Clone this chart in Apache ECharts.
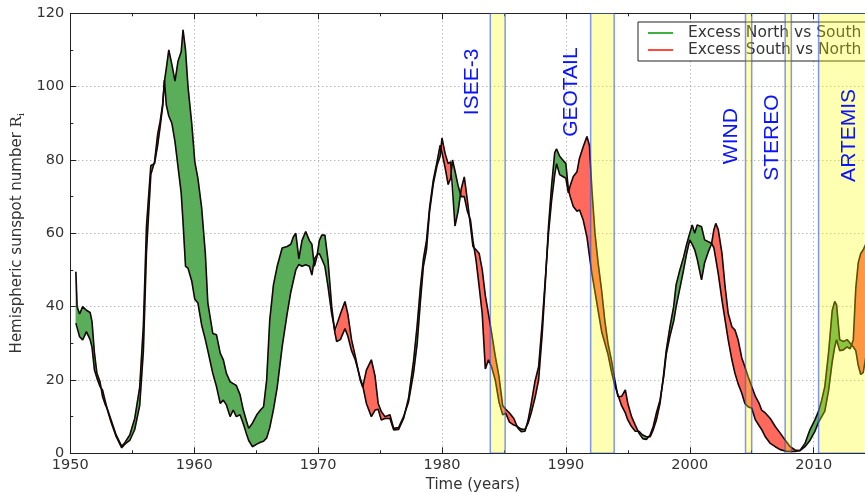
<!DOCTYPE html>
<html>
<head>
<meta charset="utf-8">
<script src="https://cdn.jsdelivr.net/npm/echarts@6/dist/echarts.min.js"></script>
<style>
  html, body { margin: 0; padding: 0; background: #fff; }
  #chart { width: 865px; height: 493px; }
</style>
</head>
<body>
<div id="chart"></div>
<script>
// Smoothed hemispheric sunspot numbers (northern / southern hemisphere)
const years = [
  1950.45,1950.55,1950.75,1951.0,1951.3,1951.6,1951.75,1951.95,1952.15,1952.4,
  1952.6,1952.8,1953.0,1953.3,1953.7,1954.15,1954.4,1954.8,1955.2,1955.6,
  1955.9,1956.15,1956.5,1956.8,1957.05,1957.25,1957.45,1957.6,1957.75,1957.95,
  1958.2,1958.45,1958.7,1958.95,1959.1,1959.3,1959.5,1959.8,1960.05,1960.3,
  1960.6,1960.9,1961.1,1961.5,1961.8,1962.1,1962.35,1962.6,1962.9,1963.15,
  1963.4,1963.7,1963.95,1964.2,1964.4,1964.7,1965.05,1965.35,1965.6,1965.85,
  1966.1,1966.4,1966.7,1967.1,1967.5,1967.8,1968.0,1968.2,1968.45,1968.7,
  1969.0,1969.3,1969.5,1969.7,1969.9,1970.1,1970.3,1970.55,1970.8,1971.1,
  1971.35,1971.5,1971.8,1972.17,1972.4,1972.7,1973.0,1973.4,1973.6,1973.9,
  1974.3,1974.6,1974.85,1975.1,1975.4,1975.8,1976.1,1976.5,1976.9,1977.3,
  1977.7,1978.0,1978.25,1978.5,1978.75,1979.0,1979.3,1979.6,1979.85,1980.0,
  1980.25,1980.5,1980.7,1980.85,1981.05,1981.3,1981.55,1981.8,1982.05,1982.3,
  1982.5,1982.75,1983.0,1983.25,1983.5,1983.75,1984.0,1984.3,1984.6,1984.9,
  1985.15,1985.45,1985.8,1986.1,1986.4,1986.7,1986.95,1987.2,1987.5,1987.8,
  1988.1,1988.35,1988.6,1988.85,1989.1,1989.25,1989.5,1989.75,1990.0,1990.2,
  1990.35,1990.6,1990.9,1991.1,1991.4,1991.7,1991.9,1992.1,1992.35,1992.6,
  1992.9,1993.15,1993.4,1993.7,1993.95,1994.2,1994.5,1994.8,1995.0,1995.3,
  1995.6,1995.9,1996.2,1996.5,1996.8,1997.05,1997.3,1997.6,1997.9,1998.1,
  1998.4,1998.7,1998.9,1999.2,1999.5,1999.75,2000.0,2000.2,2000.4,2000.6,
  2000.95,2001.2,2001.5,2001.75,2001.95,2002.1,2002.3,2002.6,2002.85,2003.1,
  2003.4,2003.65,2003.9,2004.2,2004.45,2004.7,2005.0,2005.3,2005.6,2005.8,
  2006.1,2006.5,2006.9,2007.3,2007.7,2008.1,2008.5,2008.9,2009.3,2009.7,
  2010.1,2010.4,2010.65,2010.9,2011.2,2011.5,2011.7,2011.85,2012.1,2012.4,
  2012.7,2012.95,2013.2,2013.4,2013.6,2013.8,2014.0,2014.2,2014.5
];

const north = [
  49.5,40,38,40,39,38.4,36,27.3,21.8,19.5,
  15.5,13.5,12,9,5,1.9,2.9,5,9.5,18,
  35,62,78.5,79,84,89,94.5,101.5,105,110,
  106,101.5,107,109.5,115.5,110,100,90,79.5,75,
  67,54.5,41,32.7,32.3,27.3,25.5,21.8,19.5,19,
  18.5,16,12,9,6.8,8.2,10.5,11.8,12.7,20,
  36.4,46,51,56,56.4,57,59,60,53,58,
  60.5,58,57,51,53.5,58,59.5,59.5,52.7,40,
  33,30.5,31,34,32,28,25.5,20.5,18.5,13.6,
  10,11.8,12,9.1,9.5,9.5,6.4,6.5,9.5,15,
  25,35,45,53,58,67,74.5,79.5,84,82,
  78,73.3,75,80,77,73,70,70,66,63.6,
  58,52.7,45.5,38,23,25.5,23.6,20,14,10.5,
  10.9,8.5,7.7,7.3,6.6,6.5,8.2,11,15,20,
  33,47,62,73,82,83,81,80,79,72,
  70,67.3,66,66.4,63.6,59,54,49,44,39,
  33,30,27,22,18.5,16,13,11,9.1,7.3,
  6,6,5,4.5,4.5,6.4,9,13.6,21.8,28,
  34.5,40,46,50,53.5,57,60,62.3,60,62.3,
  61.8,58.2,57.7,57.3,56,53,49,41.8,36.4,31,
  25.5,21.8,19,16.4,13.6,12.7,12.3,9.1,7.5,6.5,
  4.5,2.7,1.8,1,0.6,0.5,0.5,0.8,2.7,6.4,
  9.1,11.5,14.5,18.2,27.3,39,41.4,40.5,31,30.5,
  31,30,29,28,24,21.5,22,26,32
];

const south = [
  35.5,35,31.8,30.9,33.2,31,29,22.7,20.5,18.2,
  17.3,14.5,11.8,8.4,4.6,1.5,2.5,3.5,6.5,13,
  28,55,76,79.5,87,90.5,95,101.8,95,92,
  90,85,78,71,63,51,50.5,47,42,41,
  35,31,28,21.8,18.2,13.6,14.5,13.2,10,11.8,
  10,10.5,8.2,5.5,3.5,1.8,2.5,3,3.3,4.2,
  7,12,18,29,38,44,47,50,51.5,51,
  51.4,51,48.6,53,54,54.5,53,51,45.5,38,
  33.5,33.6,38,41.4,38,31,26.5,20,18,22.7,
  25.5,21,13.6,11.4,10,10.5,6.8,7,10,14,
  21.8,30,41,51,55.5,66,73.5,78.5,81,86,
  81.8,79,79.5,79,62,66,72,75.4,69,62,
  56.4,55.5,54.5,50,43,38,33,26.5,21,13,
  12,11,9.5,7,5.9,6,9,13.5,19.5,23.6,
  36,48,60,69,76,79,76,75.5,75,71,
  73,75.5,76.8,80.5,83.6,86.4,84,72,60,52,
  44,36,30,25,20,15.5,15.5,17.3,13.6,10,
  7.7,5.5,4,3.8,5,7.3,10.9,14.5,21,27,
  32,36,40,45,50,54.5,58.2,57,55.5,53,
  47.3,52,55,57,61,62.7,61,54.5,45.5,38.2,
  34.5,33.6,31,26,23.6,21,18.2,15.5,13.6,11.8,
  11,9.5,7.3,5.5,3.6,1.8,0.9,0.7,1.8,3.5,
  6,8.5,10,11.5,17,25,29,31,28,28.2,
  29,28.5,31,45,52,54.5,55.5,57,58
];

// Spacecraft operating windows near the Earth's orbit
const missionNames = ['ISEE-3', 'GEOTAIL', 'WIND', 'STEREO', 'ARTEMIS'];
const missionStart = [1983.9, 1992.0, 2004.5, 2007.7, 2010.4];
const missionEnd   = [1985.1, 1993.9, 2005.0, 2008.2, 2015.0];

const xTickLabels = ['1950', '1960', '1970', '1980', '1990', '2000', '2010'];
const yTickLabels = ['0', '20', '40', '60', '80', '100', '120'];

const legendNames = ['Excess North vs South', 'Excess South vs North'];

// ---- layout / style ----
const X_MIN = 1950, X_MAX = 2015, X_STEP = 10;
const Y_MIN = 0, Y_MAX = 120, Y_STEP = 20;
const GREEN = '#5aae5a';
const RED = '#ff6a5c';
const EDGE = '#140808';
const FONT = 'DejaVu Sans';
// where each mission name sits (axis units), left of its band
const labelAnchor = [[1982.4, 101.3], [1990.47, 98.5], [2003.38, 86.5], [2006.69, 86.1], [2012.85, 86.7]];

// Split the band between the two curves into runs where one hemisphere leads
function buildFillRuns() {
  const runs = [];
  const sgn = (v) => (v > 0 ? 1 : v < 0 ? -1 : 0);
  let cur = { sign: sgn(north[0] - south[0]), top: [[years[0], north[0]]], bot: [[years[0], south[0]]] };
  for (let i = 0; i < years.length - 1; i++) {
    const d1 = north[i] - south[i];
    const d2 = north[i + 1] - south[i + 1];
    if (d1 * d2 < 0) {
      const f = d1 / (d1 - d2);
      const tc = years[i] + (years[i + 1] - years[i]) * f;
      const vc = north[i] + (north[i + 1] - north[i]) * f;
      cur.top.push([tc, vc]);
      cur.bot.push([tc, vc]);
      runs.push(cur);
      cur = { sign: sgn(d2), top: [[tc, vc]], bot: [[tc, vc]] };
    } else if (cur.sign === 0) {
      cur.sign = sgn(d2);
    }
    cur.top.push([years[i + 1], north[i + 1]]);
    cur.bot.push([years[i + 1], south[i + 1]]);
  }
  runs.push(cur);
  return runs;
}
const fillRuns = buildFillRuns();

function renderFill(params, api) {
  const children = fillRuns.map((run) => {
    const pts = run.top.concat(run.bot.slice().reverse()).map((p) => api.coord(p));
    const c = run.sign >= 0 ? GREEN : RED;
    return {
      type: 'polygon',
      shape: { points: pts },
      style: { fill: c, stroke: c, lineWidth: 0.6 }
    };
  });
  return { type: 'group', children };
}

function renderBand(params, api) {
  const i = params.dataIndex;
  const p0 = api.coord([missionStart[i], Y_MAX]);
  const p1 = api.coord([missionEnd[i], Y_MIN]);
  return {
    type: 'rect',
    shape: { x: p0[0], y: p0[1], width: p1[0] - p0[0], height: p1[1] - p0[1] },
    style: { fill: 'rgba(255,255,0,0.3)', stroke: 'rgba(40,80,255,0.6)', lineWidth: 1.5 }
  };
}

function renderMissionLabel(params, api) {
  const i = params.dataIndex;
  const p = api.coord(labelAnchor[i]);
  return {
    type: 'text',
    x: p[0], y: p[1],
    rotation: Math.PI / 2,
    style: {
      text: missionNames[i],
      fill: '#0a14ff',
      font: '21px "Liberation Sans"',
      align: 'center',
      verticalAlign: 'middle'
    }
  };
}

const axisLineStyle = { color: '#222', width: 1 };
const gridLine = { show: true, lineStyle: { color: '#9a9a9a', width: 1, type: [1, 3] } };

const option = {
  animation: false,
  backgroundColor: '#fff',
  textStyle: { fontFamily: FONT },
  grid: {
    left: 70.3, top: 13.3, width: 805.3, height: 440,
    containLabel: false, outerBoundsMode: 'none'
  },
  legend: {
    data: legendNames,
    orient: 'vertical',
    left: 638,
    top: 22,
    z: 1,
    backgroundColor: '#fff',
    borderColor: '#222',
    borderWidth: 1,
    borderRadius: 0,
    padding: [3, 10, 3, 10],
    itemWidth: 25,
    itemHeight: 2,
    itemGap: 1,
    icon: 'rect',
    selectedMode: false,
    textStyle: { fontSize: 15.5, color: '#333', fontFamily: FONT, padding: [0, 0, 0, 10] }
  },
  xAxis: [
    {
      type: 'value', min: X_MIN, max: X_MAX, interval: X_STEP, position: 'bottom',
      axisLine: { show: true, onZero: false, lineStyle: axisLineStyle },
      axisTick: { show: true, inside: true, length: 6, lineStyle: axisLineStyle },
      minorTick: { show: true, splitNumber: 2, length: 3, lineStyle: axisLineStyle },
      axisLabel: {
        color: '#333', fontSize: 14.5, fontFamily: FONT, margin: 4, showMaxLabel: false,
        formatter: (v) => {
          const k = Math.round((v - X_MIN) / X_STEP);
          return k >= 0 && k < xTickLabels.length ? xTickLabels[k] : '';
        }
      },
      splitLine: gridLine,
      name: 'Time (years)', nameLocation: 'middle', nameGap: 21,
      nameTextStyle: { fontSize: 15, color: '#333', fontFamily: FONT }
    },
    {
      type: 'value', min: X_MIN, max: X_MAX, interval: X_STEP, position: 'top',
      axisLine: { show: true, onZero: false, lineStyle: axisLineStyle },
      axisTick: { show: true, inside: true, length: 6, lineStyle: axisLineStyle },
      minorTick: { show: true, splitNumber: 2, length: 3, lineStyle: axisLineStyle },
      axisLabel: { show: false },
      splitLine: { show: false }
    }
  ],
  yAxis: {
    type: 'value', min: Y_MIN, max: Y_MAX, interval: Y_STEP,
    axisLine: { show: true, onZero: false, lineStyle: axisLineStyle },
    axisTick: { show: true, inside: true, length: 6, lineStyle: axisLineStyle },
    minorTick: { show: true, splitNumber: 2, length: 3, lineStyle: axisLineStyle },
    axisLabel: {
      color: '#333', fontSize: 14.5, fontFamily: FONT, margin: 6,
      formatter: (v) => yTickLabels[Math.round((v - Y_MIN) / Y_STEP)] || ''
    },
    splitLine: gridLine,
    name: '{a|Hemispheric sunspot number }{r|R}{s|i}',
    nameLocation: 'middle', nameRotate: 90, nameGap: 44,
    nameTextStyle: {
      rich: {
        a: { fontSize: 15, color: '#333', fontFamily: FONT, lineHeight: 18 },
        r: { fontSize: 15, color: '#333', fontFamily: 'DejaVu Serif', lineHeight: 18 },
        s: { fontSize: 9, color: '#333', fontFamily: 'DejaVu Serif', lineHeight: 18, verticalAlign: 'bottom', padding: [4, 0, 0, 0] }
      }
    }
  },
  series: [
    {
      name: 'fill', type: 'custom', renderItem: renderFill, data: [[X_MIN, 0]],
      encode: { x: 0, y: 1 }, clip: true, z: 2, silent: true
    },
    {
      name: 'North', type: 'line', data: years.map((t, i) => [t, north[i]]),
      showSymbol: false, symbol: 'none', lineStyle: { color: EDGE, width: 1.6 }, z: 3, silent: true
    },
    {
      name: 'South', type: 'line', data: years.map((t, i) => [t, south[i]]),
      showSymbol: false, symbol: 'none', lineStyle: { color: EDGE, width: 1.6 }, z: 3, silent: true
    },
    { name: legendNames[0], type: 'line', data: [], color: '#3cb043' },
    { name: legendNames[1], type: 'line', data: [], color: '#ff4a3d' },
    {
      name: 'missions', type: 'custom', renderItem: renderBand,
      data: missionStart.map((s, i) => [s, missionEnd[i], 0]),
      encode: { x: [0, 1], y: 2 }, clip: true, z: 10, silent: true
    },
    {
      name: 'missionLabels', type: 'custom', renderItem: renderMissionLabel,
      data: labelAnchor.map((p) => p.slice()),
      encode: { x: 0, y: 1 }, clip: false, z: 11, silent: true
    }
  ]
};

const chart = echarts.init(document.getElementById('chart'), null, { renderer: 'canvas' });
chart.setOption(option);
</script>
</body>
</html>
